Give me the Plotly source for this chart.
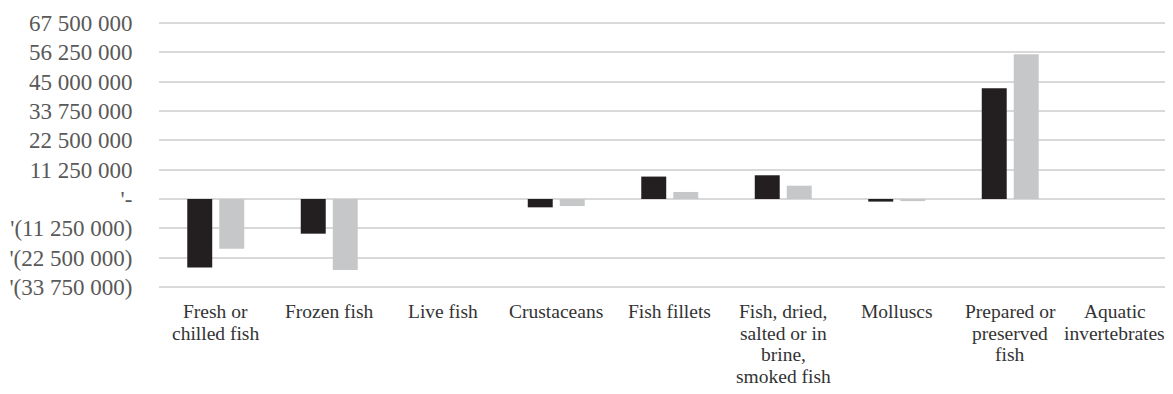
import plotly.graph_objects as go

categories = [
    "Fresh or<br>chilled fish",
    "Frozen fish",
    "Live fish",
    "Crustaceans",
    "Fish fillets",
    "Fish, dried,<br>salted or in<br>brine,<br>smoked fish",
    "Molluscs",
    "Prepared or<br>preserved<br>fish",
    "Aquatic<br>invertebrates",
]
series_a = [-26300000, -13300000, 0, -3200000, 8600000, 9100000, -1000000, 42500000, 0]
series_b = [-19100000, -27200000, 0, -2700000, 2700000, 5100000, -800000, 55500000, 0]

y_tickvals = [-33750000, -22500000, -11250000, 0, 11250000, 22500000, 33750000, 45000000, 56250000, 67500000]
y_ticktext = ["'(33 750 000)", "'(22 500 000)", "'(11 250 000)", "'-", "11 250 000", "22 500 000",
              "33 750 000", "45 000 000", "56 250 000", "67 500 000"]

FONT = "Liberation Serif, Times New Roman, serif"
xs = list(range(len(categories)))

# the page body adds an 8 px margin, so the figure is sized to end at the window edge
fig = go.Figure()
fig.add_trace(go.Bar(x=xs, y=series_a, marker=dict(color="#231f20", line=dict(width=0)), showlegend=False))
fig.add_trace(go.Bar(x=xs, y=series_b, marker=dict(color="#c6c7c9", line=dict(width=0)), showlegend=False))

annotations = []
for i, cat in enumerate(categories):
    lines = cat.split("<br>")
    xshift = -9 if i == len(categories) - 1 else 0
    for k, line in enumerate(lines):
        annotations.append(dict(
            x=i, xref="x", y=0, yref="paper", yanchor="top", xanchor="center",
            yshift=-(11 + 21.7 * k), xshift=xshift, text=line, showarrow=False,
            font=dict(family=FONT, size=19.5, color="#333333"), borderpad=0,
        ))

pad = 0.767e6  # ~2 px so the outer gridlines are drawn
fig.update_layout(
    width=1165, height=386,
    margin=dict(l=151, r=0, t=13, b=105, autoexpand=False),
    paper_bgcolor="white", plot_bgcolor="white",
    barmode="group", bargap=0.436, bargroupgap=0.22,
    annotations=annotations,
    font=dict(family=FONT),
)
fig.update_xaxes(range=[-0.5, 8.434], showticklabels=False, showgrid=False, zeroline=False,
                 showline=False, ticks="", automargin=False)
fig.update_yaxes(range=[-33750000 - pad, 67500000 + pad], tickvals=y_tickvals, ticktext=y_ticktext,
                 showgrid=True, gridcolor="#d9d9d9", gridwidth=2, zeroline=False, showline=False,
                 ticks="outside", ticklen=21, tickcolor="rgba(0,0,0,0)", automargin=False,
                 tickfont=dict(family=FONT, size=23, color="#595959"))

fig.write_html("out.html")
